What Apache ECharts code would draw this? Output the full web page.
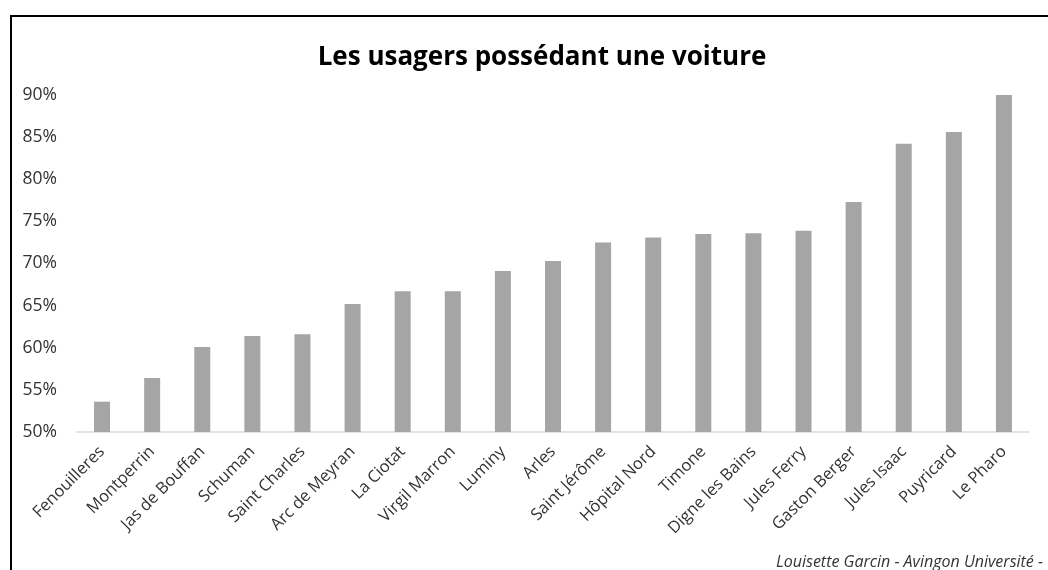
<!DOCTYPE html>
<html>
<head>
<meta charset="utf-8">
<script src="https://cdn.jsdelivr.net/npm/echarts@6/dist/echarts.min.js"></script>
<style>
  html, body { margin: 0; padding: 0; background: #fff; }
  #main { width: 1048px; height: 570px; }
</style>
</head>
<body>
<div id="main"></div>
<script>
// sites, du plus faible au plus fort
var sites = ['Fenouilleres', 'Montperrin', 'Jas de Bouffan', 'Schuman', 'Saint Charles',
  'Arc de Meyran', 'La Ciotat', 'Virgil Marron', 'Luminy', 'Arles', 'Saint Jérôme',
  'Hôpital Nord', 'Timone', 'Digne les Bains', 'Jules Ferry', 'Gaston Berger',
  'Jules Isaac', 'Puyricard', 'Le Pharo'];
// part des usagers avec voiture (%)
var partVoiture = [53.6, 56.4, 60.1, 61.4, 61.6, 65.2, 66.7, 66.7, 69.1, 70.3, 72.5,
  73.1, 73.5, 73.6, 73.9, 77.3, 84.2, 85.6, 90.2];
var yMin = 50, yMax = 90, yStep = 5;

var police = '"Open Sans", "Noto Sans", sans-serif';
var myChart = echarts.init(document.getElementById('main'));
var option = {
    textStyle: { fontFamily: police },
    title: {
        text: 'Les usagers possédant une voiture',
        left: 537,
        textAlign: 'center',
        top: 40,
        textStyle: { fontSize: 26, fontWeight: 'bold', color: '#000', fontFamily: police }
    },
    graphic: [
        { // cadre (coupé à droite et en bas)
            type: 'rect',
            shape: { x: 11, y: 16, width: 1200, height: 700 },
            style: { fill: null, stroke: '#000', lineWidth: 2 }
        },
        { // signature
            type: 'text',
            right: 5,
            top: 554,
            style: {
                text: 'Louisette Garcin - Avingon Université -',
                font: 'italic 16px ' + police,
                fill: '#333'
            }
        }
    ],
    grid: {
        left: 77,
        right: 19,
        top: 95,
        bottom: 138
    },
    xAxis: {
        type: 'category',
        data: sites,
        axisLine: { lineStyle: { color: '#d9d9d9', width: 1.5 } },
        axisTick: { show: false },
        axisLabel: {
            rotate: 45,
            interval: 0,
            margin: 17,
            fontSize: 16.5,
            color: '#333',
            fontFamily: police
        }
    },
    yAxis: {
        type: 'value',
        min: yMin,
        max: yMax,
        interval: yStep,
        splitLine: { show: false },
        axisLine: { show: false },
        axisTick: { show: false },
        axisLabel: {
            formatter: '{value}%',
            margin: 20,
            fontSize: 17.5,
            color: '#333',
            fontFamily: police
        }
    },
    series: [{
        type: 'bar',
        data: partVoiture,
        barWidth: 16,
        itemStyle: { color: '#a5a5a5' }
    }]
};
myChart.setOption(option);
</script>
</body>
</html>
